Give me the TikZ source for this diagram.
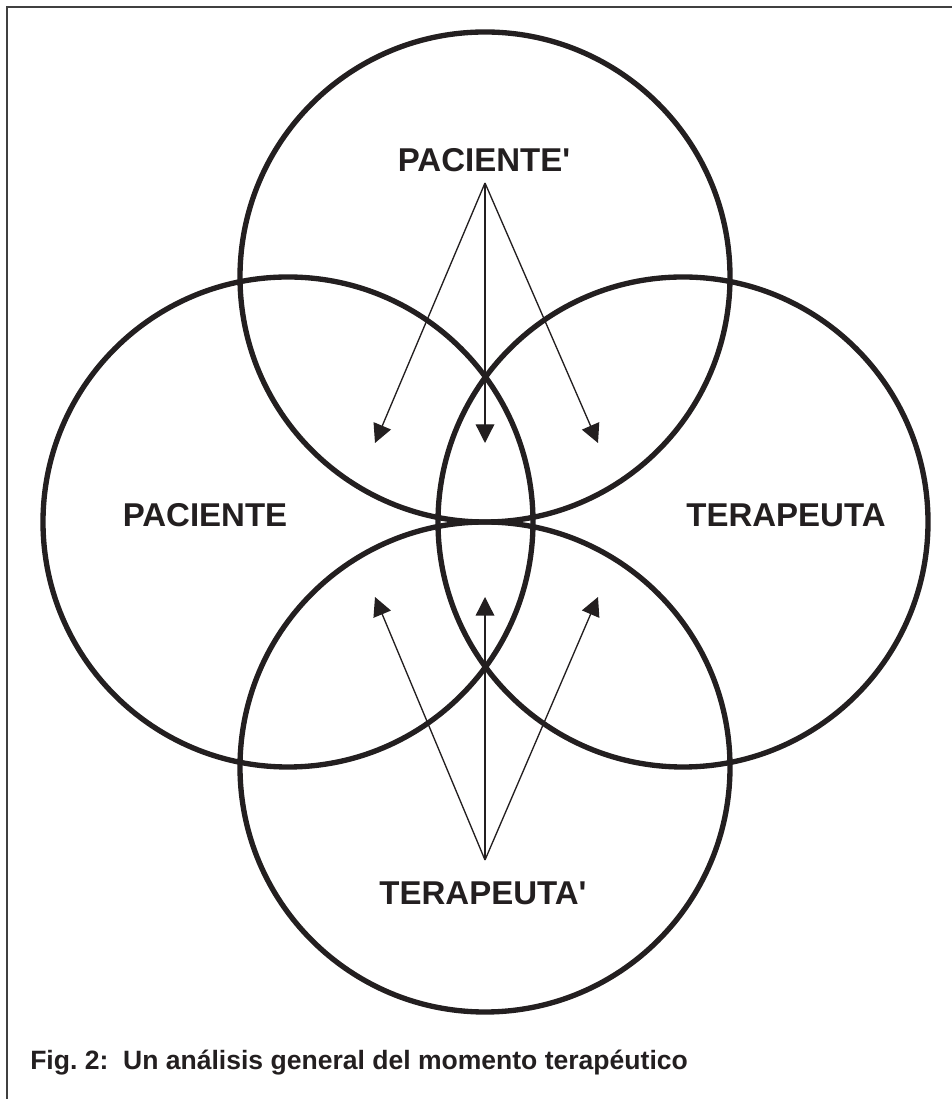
\documentclass[tikz,border=0pt]{standalone}
\usepackage{fontspec}
\setmainfont{Liberation Sans}
\usetikzlibrary{arrows.meta}

\definecolor{tinta}{RGB}{35,31,32}

\tikzset{
  circulo/.style={circle, draw=tinta, line width=4pt, minimum size=367.5pt, inner sep=0pt},
  etiqueta/.style={font=\fontsize{24.75}{29}\selectfont\bfseries, text=tinta, anchor=base, inner sep=0pt},
  flecha/.style={draw=tinta, line width=1pt, -{Triangle[length=14pt, width=14pt]}},
  marco/.style={line width=1.5pt, draw=black!75}
}

\begin{document}
\begin{tikzpicture}[x=0.75pt, y=0.75pt]
\useasboundingbox (0,0) rectangle (952,1099);

% --- Marco ---
\coordinate (marco_inf) at (7,0);
\coordinate (marco_der) at (952,1092);
\draw[marco] (marco_inf) |- (marco_der);

% --- Circulos ---
\node[circulo] (pac2) at (485,822) {};
\node[circulo] (pac)  at (288,577) {};
\node[circulo] (ter)  at (683,577) {};
\node[circulo] (ter2) at (485,332) {};

% Etiquetas
\node[etiqueta] (pac2_lbl) at (484,927) {PACIENTE\textquotesingle};
\node[etiqueta] (pac_lbl)  at (205,572) {PACIENTE};
\node[etiqueta] (ter_lbl)  at (786,572) {TERAPEUTA};
\node[etiqueta] (ter2_lbl) at (483,194) {TERAPEUTA\textquotesingle};

% --- Flechas desde PACIENTE' ---
\coordinate (pac2_vert) at (485,916);
\coordinate (pac2_izq) at (375,656);
\coordinate (pac2_cen) at (485,656);
\coordinate (pac2_der) at (598,656);
\draw[flecha] (pac2_vert) -- (pac2_izq);
\draw[flecha] (pac2_vert) -- (pac2_cen);
\draw[flecha] (pac2_vert) -- (pac2_der);

% --- Flechas desde TERAPEUTA' ---
\coordinate (ter2_vert) at (485,239);
\coordinate (ter2_izq) at (375,502);
\coordinate (ter2_cen) at (485,502);
\coordinate (ter2_der) at (598,502);
\draw[flecha] (ter2_vert) -- (ter2_izq);
\draw[flecha] (ter2_vert) -- (ter2_cen);
\draw[flecha] (ter2_vert) -- (ter2_der);

% Pie de figura
\node[anchor=base west, inner sep=0pt, text=tinta, font=\fontsize{19.9}{24}\selectfont\bfseries] (pie) at (30,29)
  {Fig.\ 2:\ \ Un análisis general del momento terapéutico};

\end{tikzpicture}
\end{document}
